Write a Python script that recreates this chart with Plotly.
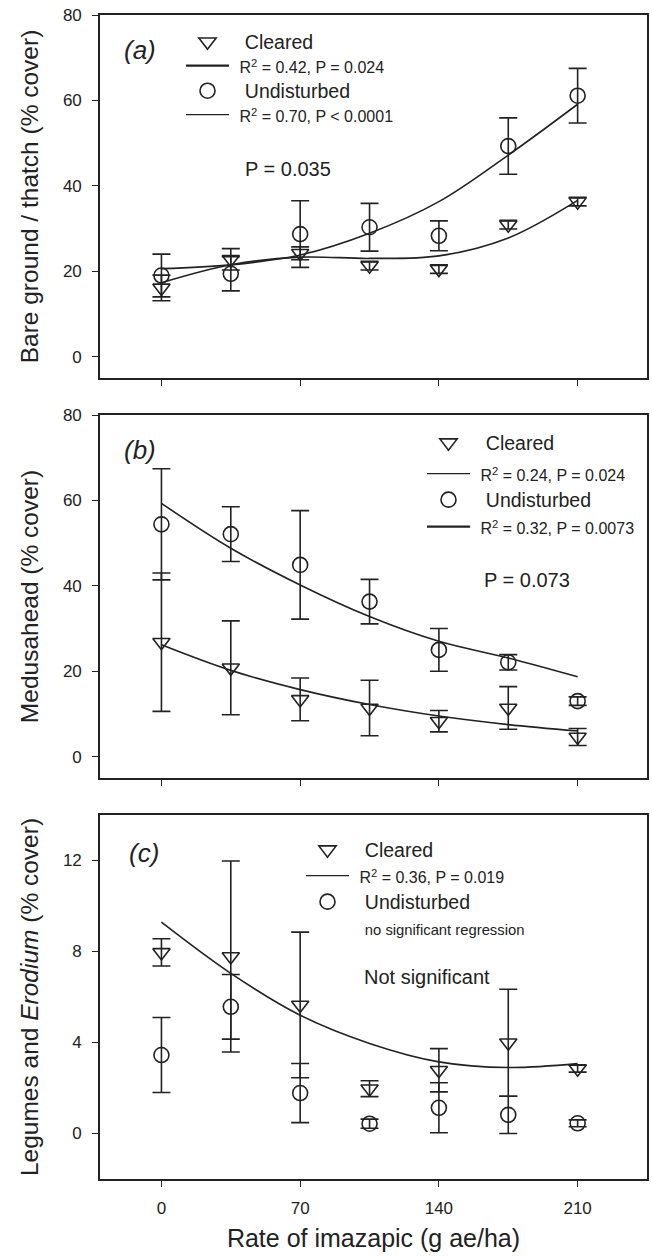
import plotly.graph_objects as go
from plotly.subplots import make_subplots

# ---------------- data ----------------
rates = [0, 35, 70, 105, 140, 175, 210]
x_ticks = [0, 70, 140, 210]

# (a) Bare ground / thatch
a_cleared = [16.1, 22.8, 24.2, 21.3, 20.5, 30.9, 36.3]
a_cleared_err = [3.0, 2.5, 1.5, 1.0, 1.0, 1.0, 1.0]
a_undist = [19.0, 19.4, 28.7, 30.3, 28.3, 49.3, 61.1]
a_undist_err = [5.0, 4.0, 7.8, 5.6, 3.5, 6.6, 6.4]
a_cleared_fit = [17.3, 21.5, 23.3, 23.0, 23.6, 27.8, 36.6]
a_undist_fit = [20.6, 21.5, 23.8, 28.9, 36.3, 47.2, 59.1]

# (b) Medusahead
b_cleared = [26.8, 20.8, 13.4, 11.4, 8.3, 11.4, 4.6]
b_cleared_err = [16.2, 11.0, 5.0, 6.5, 2.5, 5.0, 2.0]
b_undist = [54.4, 52.1, 44.9, 36.3, 25.0, 22.1, 13.0]
b_undist_err = [13.0, 6.4, 12.7, 5.2, 5.0, 1.8, 1.0]
b_cleared_fit = [26.2, 20.2, 15.7, 12.2, 9.5, 7.5, 6.0]
b_undist_fit = [59.3, 48.8, 40.2, 32.8, 27.0, 23.1, 18.7]

# (c) Legumes and Erodium
c_cleared = [7.96, 7.78, 5.65, 1.97, 2.78, 3.99, 2.85]
c_cleared_err = [0.6, 4.2, 3.2, 0.35, 0.95, 2.35, 0.15]
c_undist = [3.45, 5.57, 1.78, 0.43, 1.13, 0.82, 0.45]
c_undist_err = [1.65, 1.42, 1.3, 0.2, 1.1, 0.82, 0.15]
c_cleared_fit = [9.29, 7.04, 5.2, 3.96, 3.15, 2.9, 3.07]

FONT = "Liberation Sans, Arial, sans-serif"
INK = "#222222"
H = 1164.0

def px_x(px):
    return (px - 100) / 547.0

def px_y(py):
    return (1179 - py) / H

fig = make_subplots(rows=3, cols=1, shared_xaxes=False, vertical_spacing=0.0)

PAD = "&nbsp;&nbsp;"

def small(t, fs=16, pad="&nbsp;"):
    return pad + '<span style="font-size:%spx">' % fs + t + '</span>'

panels = [
    dict(row=1, cl=a_cleared, cle=a_cleared_err, un=a_undist, une=a_undist_err,
         clfit=a_cleared_fit, unfit=a_undist_fit,
         cltxt="R<sup>2</sup> = 0.42, P = 0.024", untxt="R<sup>2</sup> = 0.70, P < 0.0001",
         clw=2.2, unw=1.2, left=181, ys=[42, 66, 91, 115]),
    dict(row=2, cl=b_cleared, cle=b_cleared_err, un=b_undist, une=b_undist_err,
         clfit=b_cleared_fit, unfit=b_undist_fit,
         cltxt="R<sup>2</sup> = 0.24, P = 0.024", untxt="R<sup>2</sup> = 0.32, P = 0.0073",
         clw=1.2, unw=2.2, left=422, ys=[443, 474, 500, 527]),
    dict(row=3, cl=c_cleared, cle=c_cleared_err, un=c_undist, une=c_undist_err,
         clfit=c_cleared_fit, unfit=None,
         cltxt="R<sup>2</sup> = 0.36, P = 0.019", untxt="no significant regression",
         clw=1.2, unw=0, left=301, ys=[850, 876, 902, 928]),
]

legend_layouts = {}
leg_n = 0

def next_legend(left_px, y_px):
    global leg_n
    leg_n += 1
    name = "legend" if leg_n == 1 else "legend%d" % leg_n
    legend_layouts[name] = dict(
        font=dict(family=FONT, size=19.5, color=INK), bgcolor="rgba(0,0,0,0)",
        borderwidth=0, xanchor="left", yanchor="middle", itemwidth=43,
        x=px_x(left_px), y=px_y(y_px))
    return name

for p in panels:
    r = p["row"]
    for yv, ev, sym in [(p["cl"], p["cle"], "triangle-down-open"), (p["un"], p["une"], "circle-open")]:
        fig.add_trace(go.Scatter(
            x=rates, y=yv, mode="markers", showlegend=False,
            marker=dict(symbol=sym, size=15, color=INK, line=dict(width=1.6, color=INK)),
            error_y=dict(type="data", array=ev, visible=True, color=INK, thickness=1.6, width=9),
        ), row=r, col=1)
    fig.add_trace(go.Scatter(
        x=rates, y=p["clfit"], mode="lines", line=dict(color=INK, width=1.6, shape="spline"),
        showlegend=False), row=r, col=1)
    if p["unfit"] is not None:
        fig.add_trace(go.Scatter(
            x=rates, y=p["unfit"], mode="lines", line=dict(color=INK, width=1.6, shape="spline"),
            showlegend=False), row=r, col=1)

    ys = p["ys"]
    lf = p["left"]
    fig.add_trace(go.Scatter(x=[None], y=[None], mode="markers", name=PAD + "Cleared",
                             legend=next_legend(lf, ys[0]),
                             marker=dict(symbol="triangle-down-open", size=15, color=INK,
                                         line=dict(width=1.6, color=INK))), row=r, col=1)
    fig.add_trace(go.Scatter(x=[None], y=[None], mode="lines", name=small(p["cltxt"]),
                             legend=next_legend(lf, ys[1]),
                             line=dict(color=INK, width=p["clw"])), row=r, col=1)
    fig.add_trace(go.Scatter(x=[None], y=[None], mode="markers", name=PAD + "Undisturbed",
                             legend=next_legend(lf, ys[2]),
                             marker=dict(symbol="circle-open", size=15, color=INK,
                                         line=dict(width=1.6, color=INK))), row=r, col=1)
    if p["unw"] > 0:
        fig.add_trace(go.Scatter(x=[None], y=[None], mode="lines", name=small(p["untxt"]),
                                 legend=next_legend(lf, ys[3]),
                                 line=dict(color=INK, width=p["unw"])), row=r, col=1)
    else:
        fig.add_trace(go.Scatter(x=[None], y=[None], mode="lines",
                                 name=small(p["untxt"], 14.8, PAD),
                                 legend=next_legend(lf, ys[3]),
                                 line=dict(color="rgba(0,0,0,0)", width=0.5)), row=r, col=1)

def dom(top_px, bot_px):
    return [(1179 - bot_px) / H, (1179 - top_px) / H]

axis_common = dict(showline=True, linecolor=INK, linewidth=1.6, mirror=True,
                   ticks="outside", ticklen=6, tickwidth=1.4, tickcolor=INK,
                   showgrid=False, zeroline=False, automargin=False,
                   tickfont=dict(family=FONT, size=17, color=INK))

ydoms = [dom(15, 378), dom(415, 778), dom(815, 1179)]
yranges = [[-5, 80], [-5, 80], [-2, 14]]
ytickvals = [[0, 20, 40, 60, 80], [0, 20, 40, 60, 80], [0, 4, 8, 12]]
ytitles = ["Bare ground / thatch (% cover)", "Medusahead (% cover)",
           "Legumes and <i>Erodium</i> (% cover)"]

for i in range(3):
    sx = "xaxis" if i == 0 else f"xaxis{i+1}"
    sy = "yaxis" if i == 0 else f"yaxis{i+1}"
    fig.layout[sx].update(axis_common)
    fig.layout[sx].update(range=[-31, 245], tickvals=x_ticks, domain=[0, 1],
                          showticklabels=(i == 2), ticklabelstandoff=7)
    fig.layout[sy].update(axis_common)
    fig.layout[sy].update(range=yranges[i], tickvals=ytickvals[i], domain=ydoms[i],
                          ticklabelstandoff=7,
                          title=dict(text=ytitles[i], font=dict(family=FONT, size=24.5, color=INK),
                                     standoff=17))

fig.layout.xaxis3.update(title=dict(text="Rate of imazapic (g ae/ha)",
                                    font=dict(family=FONT, size=25, color=INK), standoff=12))

fig.update_layout(**legend_layouts)

annos = [
    ("<i>(a)</i>", 140, 50, "center", 26),
    ("<i>(b)</i>", 140, 450, "center", 26),
    ("<i>(c)</i>", 144, 853, "center", 26),
    ("P = 0.035", 243, 169, "left", 20),
    ("P = 0.073", 482, 580, "left", 20),
    ("Not significant", 362, 977, "left", 20),
]
for t, xx, yy, anc, fs in annos:
    fig.add_annotation(text=t, x=px_x(xx), y=px_y(yy), xref="paper", yref="paper",
                       xanchor=anc, yanchor="middle", showarrow=False,
                       font=dict(family=FONT, size=fs, color=INK))

fig.update_layout(width=652, height=1256, margin=dict(l=100, r=5, t=15, b=77),
                  plot_bgcolor="white", paper_bgcolor="white",
                  font=dict(family=FONT, color=INK))

fig.write_html("out.html", config={"displayModeBar": False},
               post_script="document.body.style.margin='0px';")
